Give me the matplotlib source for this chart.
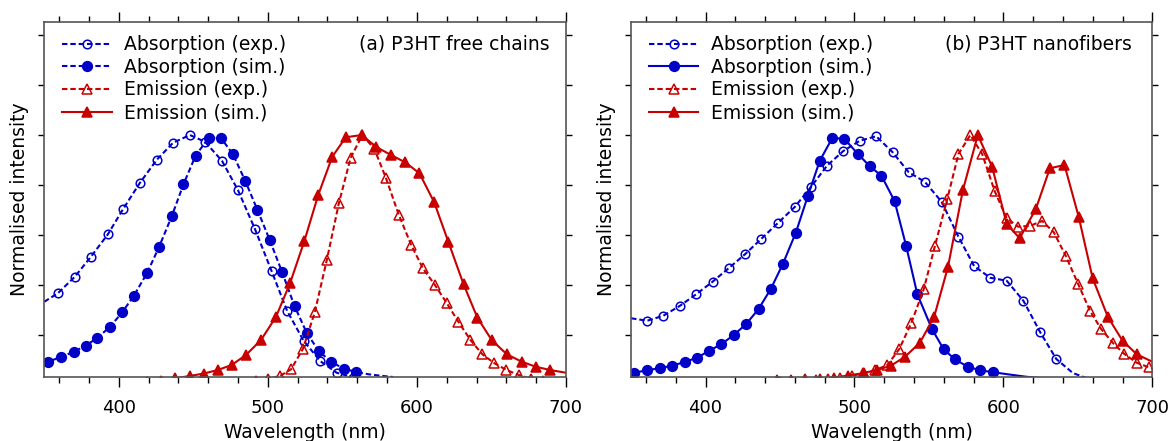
import matplotlib
matplotlib.use('Agg')
import matplotlib.pyplot as plt
from matplotlib.ticker import MultipleLocator

BLUE = '#0000c8'
RED = '#c80000'

labels = ["Absorption (exp.)", "Absorption (sim.)", "Emission (exp.)", "Emission (sim.)"]
titles = ["(a) P3HT free chains", "(b) P3HT nanofibers"]

# ---------- (a) P3HT free chains ----------
a_abs_exp_x = [350, 359.1, 370.5, 381.3, 392.7, 402.8, 414.1, 425.5, 436.4, 447.7, 457.8, 469.2, 480.0,
               491.4, 502.5, 512.9, 524.0, 535.1, 546.2, 557.3, 568.4, 580.0]
a_abs_exp_y = [0.333, 0.367, 0.433, 0.513, 0.603, 0.703, 0.808, 0.901, 0.969, 1.0, 0.973, 0.897, 0.779,
               0.623, 0.456, 0.297, 0.177, 0.096, 0.049, 0.030, 0.022, 0.015]

a_abs_sim_x = [350, 352.3, 360.9, 369.7, 377.8, 385.6, 394.2, 402.3, 410.1, 418.9, 427.0, 435.6, 443.4,
               451.5, 460.3, 468.4, 476.5, 484.8, 492.9, 501.2, 509.6, 517.9, 526.2, 534.3, 542.4, 551.0,
               559.3, 567.5, 575.8, 584.0]
a_abs_sim_y = [0.088, 0.093, 0.111, 0.133, 0.157, 0.189, 0.233, 0.291, 0.357, 0.447, 0.552, 0.676, 0.803,
               0.917, 0.989, 0.989, 0.924, 0.817, 0.702, 0.581, 0.451, 0.316, 0.207, 0.135, 0.093, 0.065,
               0.052, 0.043, 0.037, 0.032]

a_em_exp_x = [492.0, 500.0, 508.1, 515.6, 523.5, 531.5, 539.6, 547.7, 555.5, 563.4, 571.4, 579.3, 587.9,
              596.2, 604.0, 612.1, 619.9, 627.8, 635.8, 643.9, 652.0, 660.1, 668.4, 676.5, 684.6, 692.7, 700.8]
a_em_exp_y = [0.015, 0.025, 0.036, 0.063, 0.144, 0.291, 0.501, 0.728, 0.908, 1.0, 0.945, 0.827, 0.68,
              0.56, 0.467, 0.4, 0.329, 0.253, 0.181, 0.123, 0.087, 0.06, 0.04, 0.025, 0.015, 0.008, 0.004]

a_em_sim_x = [418.7, 428.3, 437.9, 447.5, 457.1, 466.4, 475.7, 485.3, 495.4, 505.5, 514.9, 524.5, 533.8,
              543.2, 552.3, 563.1, 572.5, 582.6, 592.1, 601.7, 611.6, 621.2, 631.3, 640.6, 650.2, 660.3,
              670.4, 679.8, 689.4, 700.0]
a_em_sim_y = [0.012, 0.018, 0.027, 0.036, 0.046, 0.06, 0.08, 0.12, 0.18, 0.273, 0.407, 0.576, 0.76,
              0.913, 0.991, 1.0, 0.953, 0.92, 0.891, 0.847, 0.731, 0.571, 0.403, 0.269, 0.18, 0.123,
              0.093, 0.073, 0.06, 0.049]

# ---------- (b) P3HT nanofibers ----------
b_abs_exp_x = [350, 360.8, 371.6, 382.6, 393.7, 404.7, 415.5, 426.5, 437.3, 448.4, 459.9, 470.9, 481.5,
               492.5, 503.6, 514.6, 525.6, 536.4, 547.2, 558.5, 569.8, 580.3, 591.1, 602.2, 613.4, 624.7,
               635.5, 646.6, 657.0]
b_abs_exp_y = [0.267, 0.257, 0.277, 0.316, 0.363, 0.413, 0.467, 0.523, 0.584, 0.647, 0.712, 0.793, 0.877,
               0.936, 0.977, 0.995, 0.931, 0.851, 0.813, 0.733, 0.593, 0.476, 0.429, 0.417, 0.337, 0.211,
               0.104, 0.048, 0.025]

b_abs_sim_x = [350, 352.0, 360.8, 369.6, 377.6, 385.9, 394.2, 402.2, 410.5, 419.0, 427.3, 435.6, 443.8,
               451.9, 460.6, 468.7, 476.7, 485.2, 493.3, 502.5, 510.1, 518.1, 526.9, 534.7, 542.2, 552.0,
               559.8, 567.3, 576.1, 584.3, 593.1, 604.0, 615.4, 625.0]
b_abs_sim_y = [0.047, 0.049, 0.059, 0.068, 0.077, 0.092, 0.109, 0.136, 0.163, 0.2, 0.244, 0.304, 0.384,
               0.484, 0.609, 0.756, 0.897, 0.989, 0.984, 0.923, 0.876, 0.837, 0.736, 0.556, 0.363, 0.224,
               0.144, 0.103, 0.073, 0.059, 0.051, 0.042, 0.033, 0.028]

b_em_exp_x = [450.0, 458.0, 466.1, 474.1, 482.1, 490.1, 498.1, 506.1, 514.1, 522.1, 530.1, 538.2, 546.5,
              554.0, 562.3, 569.8, 577.8, 585.8, 594.1, 602.2, 609.9, 618.0, 626.0, 633.8, 641.8, 650.1,
              658.1, 665.6, 673.7, 681.2, 689.5, 697.5, 705.0]
b_em_exp_y = [0.012, 0.014, 0.016, 0.019, 0.023, 0.028, 0.036, 0.048, 0.06, 0.08, 0.144, 0.249, 0.383,
              0.556, 0.744, 0.924, 1.0, 0.923, 0.776, 0.667, 0.633, 0.637, 0.656, 0.611, 0.517, 0.405,
              0.297, 0.224, 0.167, 0.124, 0.089, 0.071, 0.06]

b_em_sim_x = [447.9, 457.5, 467.1, 476.7, 486.3, 495.9, 505.5, 515.1, 524.4, 533.9, 543.9, 553.5, 562.8,
              572.8, 582.8, 592.4, 602.2, 610.9, 621.7, 631.2, 641.0, 650.6, 659.9, 670.2, 680.0, 689.5, 700.0]
b_em_sim_y = [0.02, 0.021, 0.023, 0.026, 0.03, 0.038, 0.047, 0.06, 0.077, 0.113, 0.169, 0.273, 0.473,
              0.78, 1.0, 0.873, 0.644, 0.587, 0.703, 0.867, 0.88, 0.671, 0.427, 0.271, 0.177, 0.123, 0.093]

DASH = (0, (2.6, 1.4))

panels = [
    dict(title=titles[0], tx=0.968, series=[
        (a_abs_exp_x, a_abs_exp_y, BLUE, DASH, 'o', 'none', slice(1, 20)),
        (a_abs_sim_x, a_abs_sim_y, BLUE, DASH, 'o', BLUE, slice(1, 27)),
        (a_em_exp_x, a_em_exp_y, RED, DASH, '^', 'none', None),
        (a_em_sim_x, a_em_sim_y, RED, '-', '^', RED, slice(0, 29)),
    ]),
    dict(title=titles[1], tx=0.96, series=[
        (b_abs_exp_x, b_abs_exp_y, BLUE, DASH, 'o', 'none', slice(1, 27)),
        (b_abs_sim_x, b_abs_sim_y, BLUE, '-', 'o', BLUE, slice(1, 31)),
        (b_em_exp_x, b_em_exp_y, RED, DASH, '^', 'none', None),
        (b_em_sim_x, b_em_sim_y, RED, '-', '^', RED, slice(0, 26)),
    ]),
]

plt.rcParams['font.family'] = ['DejaVu Sans']
fig = plt.figure(figsize=(11.71, 4.41), dpi=100)
axes = [fig.add_axes([0.0378, 0.1451, 0.4455, 0.805]),
        fig.add_axes([0.5389, 0.1451, 0.4452, 0.805])]

for ax, p in zip(axes, panels):
    for (x, y, col, ls, mk, mfc, me), lab in zip(p['series'], labels):
        ms = 6.2 if mk == 'o' else 7.0
        if mk == 'o' and mfc != 'none':
            ms = 7.0
        ax.plot(x, y, color=col, linestyle=ls, linewidth=1.5, marker=mk, markersize=ms,
                markerfacecolor=mfc if mfc == 'none' else col, markeredgecolor=col,
                markeredgewidth=1.1, markevery=me, label=lab)
    ax.set_xlim(350, 700)
    ax.set_ylim(0.032, 1.452)
    ax.xaxis.set_major_locator(MultipleLocator(100))
    ax.xaxis.set_minor_locator(MultipleLocator(20))
    ax.set_yticks([0.2, 0.4, 0.6, 0.8, 1.0, 1.2, 1.4])
    ax.tick_params(axis='x', which='major', direction='out', length=7, width=1, top=True,
                   labelsize=13, pad=8.5)
    ax.tick_params(axis='x', which='minor', direction='out', length=4.3, width=1, top=True)
    ax.tick_params(axis='y', which='major', direction='out', length=4.3, width=1, right=True,
                   labelleft=False)
    for s in ax.spines.values():
        s.set_color('#555555')
        s.set_linewidth(1.2)
    ax.set_xlabel("Wavelength (nm)", fontsize=13.5)
    ax.xaxis.set_label_coords(0.5, -0.13)
    ax.set_ylabel("Normalised intensity", fontsize=13.5)
    ax.yaxis.set_label_coords(-0.029, 0.5)
    ax.text(p['tx'], 0.938, p['title'], transform=ax.transAxes, ha='right', va='center',
            fontsize=13.5)
    ax.legend(loc='upper left', bbox_to_anchor=(0.034, 0.963), frameon=False, fontsize=13.5,
              numpoints=1, handlelength=2.65, handletextpad=0.65, labelspacing=0.195,
              borderpad=0, borderaxespad=0)

fig.savefig('out.png', dpi=100)
